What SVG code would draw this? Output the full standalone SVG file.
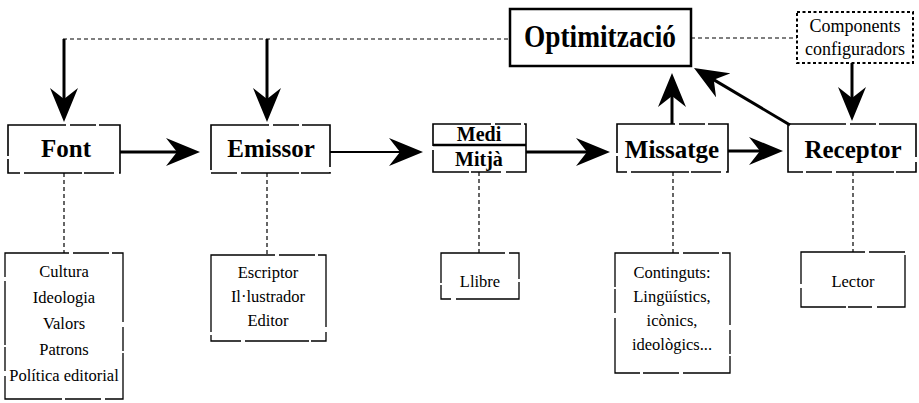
<svg xmlns="http://www.w3.org/2000/svg" width="919" height="403" viewBox="0 0 919 403" font-family="Liberation Serif, Times New Roman, serif">
  <style>
    .bg { fill: #ffffff; }
    .frame { fill: none; stroke: #000; stroke-width: 1.6; stroke-dasharray: 58 4 26 3 70 5 30 2; }
    .sub { fill: none; stroke: #000; stroke-width: 1.3; stroke-dasharray: 64 4 36 3 80 5 24 2; }
    .solid { fill: none; stroke: #000; stroke-width: 2.5; }
    .dotbox { fill: none; stroke: #000; stroke-width: 2; stroke-dasharray: 3 2.5; }
    .dotted { fill: none; stroke: #000; stroke-width: 1.2; stroke-dasharray: 4 3; }
    .arrow { fill: none; stroke: #000; stroke-width: 3; marker-end: url(#head); }
    .arrow.thin { stroke-width: 2; }
    .label { font-weight: bold; font-size: 25px; }
    .title { font-weight: bold; font-size: 31px; }
    .medium { font-weight: bold; font-size: 20px; }
    .note { font-size: 16.5px; }
    .conf { font-size: 18px; }
  </style>
  <defs>
    <!-- barbed arrowhead, tip 10px beyond the line end -->
    <marker id="head" viewBox="0 0 34 28" refX="24" refY="14" markerWidth="34" markerHeight="28" markerUnits="userSpaceOnUse" orient="auto">
      <path d="M0,0 L34,14 L0,28 L11,14 Z" fill="#000"/>
    </marker>
  </defs>

  <rect class="bg" x="0" y="0" width="919" height="403"/>

  <!-- connectors -->
  <g id="connectors">
    <!-- feedback line from Optimització back to Font and Emissor -->
    <path class="dotted" d="M63,39 H510"/>
    <path class="dotted" d="M691,38 H797"/>
    <line class="arrow" x1="64" y1="39" x2="64" y2="112"/>
    <line class="arrow" x1="267" y1="39" x2="267" y2="112"/>
    <line class="arrow" x1="852" y1="63" x2="852" y2="111"/>
    <!-- main chain -->
    <line class="arrow" x1="120" y1="152" x2="190" y2="152"/>
    <line class="arrow thin" x1="330" y1="152" x2="413" y2="152"/>
    <line class="arrow" x1="526" y1="152" x2="600" y2="152"/>
    <line class="arrow" x1="728" y1="151" x2="773" y2="151"/>
    <!-- toward Optimització -->
    <line class="arrow" x1="672" y1="124" x2="672" y2="83"/>
    <line class="arrow" x1="790" y1="125" x2="702.6" y2="73.1"/>
    <!-- links to detail boxes -->
    <path class="dotted" d="M64,173 V253"/>
    <path class="dotted" d="M267,173 V255"/>
    <path class="dotted" d="M479,172 V253"/>
    <path class="dotted" d="M673,172 V253"/>
    <path class="dotted" d="M853,172 V252"/>
  </g>

  <g text-anchor="middle" fill="#000" font-family="Liberation Serif, Times New Roman, serif">
  <g id="optimitzacio">
    <rect class="solid" x="510" y="9" width="181" height="57"/>
    <text class="title" x="600" y="47" textLength="152" lengthAdjust="spacingAndGlyphs">Optimització</text>
  </g>

  <g id="components">
    <rect class="dotbox" x="797" y="12" width="116" height="51"/>
    <text class="conf" x="855" y="32">Components</text>
    <text class="conf" x="855" y="55">configuradors</text>
  </g>

  <g id="font">
    <rect class="frame" x="8" y="125" width="112" height="48"/>
    <text class="label" x="66" y="157">Font</text>
  </g>

  <g id="emissor">
    <rect class="frame" x="211" y="125" width="119" height="48"/>
    <text class="label" x="271" y="157">Emissor</text>
  </g>

  <g id="medi">
    <rect class="frame" x="433" y="124" width="93" height="48"/>
    <line x1="433" y1="145" x2="526" y2="145" stroke="#000" stroke-width="2.5"/>
    <text class="medium" x="479" y="141">Medi</text>
    <text class="medium" x="479" y="166">Mitjà</text>
  </g>

  <g id="missatge">
    <rect class="frame" x="617" y="124" width="111" height="48"/>
    <text class="label" x="672" y="158">Missatge</text>
  </g>

  <g id="receptor">
    <rect class="frame" x="788" y="124" width="128" height="48"/>
    <text class="label" x="853" y="158">Receptor</text>
  </g>

  <g id="font-detail">
    <rect class="sub" x="5" y="253" width="118" height="146"/>
    <text class="note" x="64" y="277">Cultura</text>
    <text class="note" x="64" y="303">Ideologia</text>
    <text class="note" x="64" y="329">Valors</text>
    <text class="note" x="64" y="355">Patrons</text>
    <text class="note" x="64" y="381">Política editorial</text>
  </g>

  <g id="emissor-detail">
    <rect class="sub" x="211" y="255" width="115" height="86"/>
    <text class="note" x="268" y="278">Escriptor</text>
    <text class="note" x="268" y="302">Il·lustrador</text>
    <text class="note" x="268" y="326">Editor</text>
  </g>

  <g id="medi-detail">
    <rect class="sub" x="441" y="253" width="78" height="46"/>
    <text class="note" x="480" y="287">Llibre</text>
  </g>

  <g id="missatge-detail">
    <rect class="sub" x="615" y="253" width="115" height="120"/>
    <text class="note" x="672" y="278">Continguts:</text>
    <text class="note" x="672" y="302">Lingüístics,</text>
    <text class="note" x="672" y="326">icònics,</text>
    <text class="note" x="672" y="350">ideològics...</text>
  </g>

  <g id="receptor-detail">
    <rect class="sub" x="801" y="252" width="104" height="55"/>
    <text class="note" x="853" y="287">Lector</text>
  </g>
  </g>
</svg>
